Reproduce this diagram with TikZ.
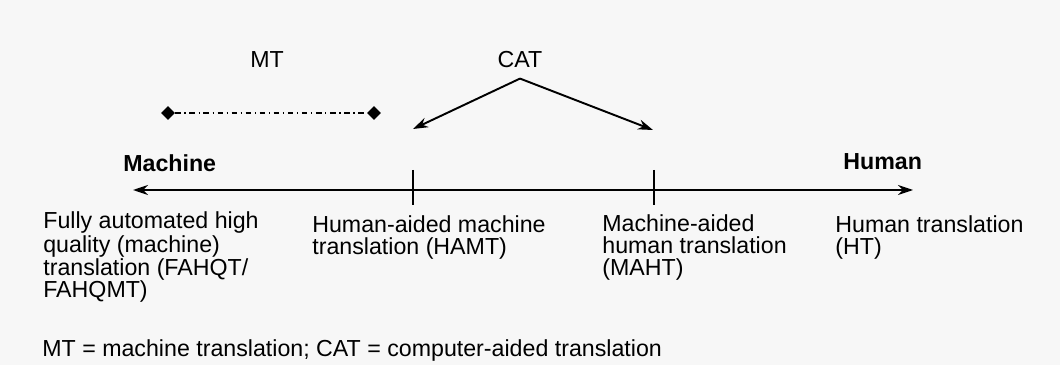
\documentclass[tikz,border=0pt]{standalone}
\usepackage{fontspec}
\setmainfont{Liberation Sans}
\usetikzlibrary{arrows.meta,shapes.geometric,positioning}

\tikzset{
  lbl/.style={inner sep=0pt, anchor=base west, align=left, font=\fontsize{13.2}{12.3}\selectfont},
  pole/.style={lbl, font=\fontsize{13.2}{12.3}\selectfont\bfseries},
  ends/.style={diamond, fill=black, inner sep=0pt, minimum size=0.28cm},
  mtline/.style={line width=0.9pt, dash pattern=on 3.2pt off 2pt on 0.8pt off 2pt},
  axis/.style={line width=1.1pt, {Stealth[length=0.3cm, width=0.2cm]}-{Stealth[length=0.3cm, width=0.2cm]}},
  catarrow/.style={line width=1.1pt, -{Stealth[length=0.3cm, width=0.2cm]}}
}

\begin{document}
\begin{tikzpicture}[x=0.02cm, y=0.02cm]
  \useasboundingbox[fill=black!3] (0,0) rectangle (1060,365);
  %top
  \node [lbl, anchor=base] (mt) at (267,297) {MT};
  \node [lbl, anchor=base, inner ysep=0.2cm] (cat) at (520,297) {CAT};
  \node [ends] (mtl) at (168,252) {};
  \node [ends] (mtr) at (374,252) {};
  \coordinate (hamtc) at (413,236);
  \coordinate (mahtc) at (653,235);
  %axis
  \coordinate (ml) at (133,175);
  \coordinate (hr) at (913,175);
  \coordinate (t1a) at (413,195);
  \coordinate (t1b) at (413,160);
  \coordinate (t2a) at (654,195);
  \coordinate (t2b) at (654,160);
  \node [pole] (machine) at (123,193) {Machine};
  \node [pole] (human) at (843,195) {Human};
  %below the axis (base = last line)
  \node [lbl] (fahqt) at (43,68) {Fully automated high\\quality (machine)\\translation (FAHQT/\\FAHQMT)};
  \node [lbl] (hamt) at (312,111) {Human-aided machine\\translation (HAMT)};
  \node [lbl] (maht) at (602,90) {Machine-aided\\human translation\\(MAHT)};
  \node [lbl] (ht) at (835,111) {Human translation\\(HT)};
  \node [lbl] (note) at (42,9) {MT = machine translation; CAT = computer-aided translation};

  \draw [mtline] (mtl) -- (mtr);
  \draw [catarrow] (cat.south) -- (hamtc);
  \draw [catarrow] (cat.south) -- (mahtc);
  \draw [axis] (ml) -- (hr);
  \draw [line width=1.1pt] (t1a) -- (t1b);
  \draw [line width=1.1pt] (t2a) -- (t2b);
\end{tikzpicture}
\end{document}
